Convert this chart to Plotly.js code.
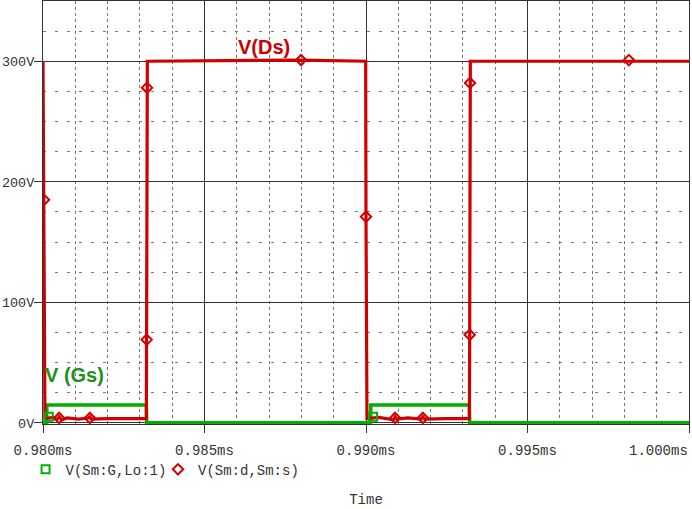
<!DOCTYPE html>
<html><head><meta charset="utf-8">
<script src="https://cdn.plot.ly/plotly-3.0.1.min.js"></script>
<style>html,body{margin:0;padding:0;background:#fff}#chart{width:692px;height:509px}</style>
</head><body><div id="chart"></div>
<script>
// V(Sm:d,Sm:s) drain-source voltage (time in ms, volts)
const dsTime = [0.98000, 0.98003, 0.98006, 0.98030, 0.98042, 0.98050, 0.98058, 0.98075, 0.98110, 0.98140, 0.98145, 0.98150, 0.98200, 0.98320, 0.98321, 0.98322, 0.98323, 0.98800, 0.98999, 0.99000, 0.99003, 0.99040, 0.99085, 0.99090, 0.99095, 0.99130, 0.99170, 0.99176, 0.99182, 0.99250, 0.99320, 0.99321, 0.99322, 0.99323, 1.00000];
const dsVolt = [300, 185, 3.5, 4.5, 2.5, 5, 2.5, 4, 3, 4, 5, 3, 3.5, 3.5, 69, 278, 300, 301, 300, 171, 3.5, 4.5, 2.5, 5, 3, 4, 3, 5, 3, 3.5, 3.5, 73, 282, 300, 300];
const dsMarkTime = [0.98003, 0.98050, 0.98145, 0.98321, 0.98322, 0.98799, 0.99000, 0.99090, 0.99176, 0.99321, 0.99322, 0.99814];
const dsMarkVolt = [185, 4, 4, 69, 278, 301, 171, 4, 4, 73, 282, 301];

// V(Sm:G,Lo:1) gate voltage
const gsTime = [0.98000, 0.98011, 0.98012, 0.98320, 0.98321, 0.99014, 0.99015, 0.99320, 0.99321, 1.00000];
const gsVolt = [0, 0, 14.8, 14.8, 0, 0, 14.8, 14.8, 0, 0];
const gsMarkTime = [0.98018, 0.99022];
const gsMarkVolt = [5, 5];

const xTickVals = [0.980, 0.985, 0.990, 0.995, 1.000];
const xTickLabels = ['0.980ms', '0.985ms', '0.990ms', '0.995ms', ''];
const lastTickLabel = '1.000ms';

const RED = '#d00000', GREEN = '#00b000';
const mono = {family: 'Liberation Mono, Courier New, monospace', size: 14, color: '#333'};

const traces = [
  {x: gsTime, y: gsVolt, mode: 'lines', line: {color: GREEN, width: 3.5}, showlegend: false},
  {x: dsTime, y: dsVolt, mode: 'lines', line: {color: RED, width: 3.2}, showlegend: false},
  {x: gsMarkTime, y: gsMarkVolt, mode: 'markers', name: 'V(Sm:G,Lo:1)', legend: 'legend',
   marker: {symbol: 'square-open', size: 8, color: GREEN, line: {width: 2, color: GREEN}}},
  {x: dsMarkTime, y: dsMarkVolt, mode: 'markers', name: 'V(Sm:d,Sm:s)', legend: 'legend2',
   marker: {symbol: 'diamond-open', size: 8, color: RED, line: {width: 2, color: RED}}}
];

const legendBase = {orientation: 'h', xanchor: 'left', y: -0.108, yanchor: 'middle',
                    font: mono, itemwidth: 30, bgcolor: 'rgba(0,0,0,0)'};

const layout = {
  width: 692, height: 509,
  margin: {l: 43, r: 3, t: 1, b: 85},
  paper_bgcolor: '#fff', plot_bgcolor: '#fff',
  font: mono,
  hovermode: false,
  xaxis: {
    range: [0.980, 1.000], tickmode: 'array', tickvals: xTickVals, ticktext: xTickLabels,
    ticks: 'outside', ticklen: 8, tickcolor: '#333', tickfont: mono, ticklabelstandoff: 5,
    showgrid: true, gridcolor: '#333', gridwidth: 1, zeroline: false,
    showline: true, linecolor: '#333', linewidth: 1, mirror: true,
    minor: {tick0: 0.980, dtick: 0.001, showgrid: true, gridcolor: '#777', griddash: 'dot', ticks: ''},
    title: {text: 'Time', font: mono, standoff: 36}, automargin: false
  },
  yaxis: {
    range: [-1, 350], tick0: 0, dtick: 100, ticksuffix: 'V',
    ticks: 'outside', ticklen: 8, tickcolor: '#333', tickfont: {family: mono.family, size: 13.5, color: '#333'},
    ticklabelstandoff: -3,
    showgrid: true, gridcolor: '#333', gridwidth: 1, zeroline: false,
    showline: true, linecolor: '#333', linewidth: 1, mirror: true,
    minor: {tick0: 0, dtick: 25, showgrid: true, gridcolor: '#777', griddash: '3px,9px', ticks: ''},
    automargin: false
  },
  yaxis2: {
    overlaying: 'y', range: [-1, 350], tick0: 75, dtick: 75, showticklabels: false, ticks: '',
    showgrid: true, gridcolor: '#777', griddash: '5px,1px', zeroline: false, showline: false
  },
  legend: Object.assign({}, legendBase, {x: -0.027}),
  legend2: Object.assign({}, legendBase, {x: 0.178}),
  annotations: [
    {x: 0.98684, y: 312, xref: 'x', yref: 'y', text: 'V(Ds)', showarrow: false,
     font: {family: 'Liberation Sans, Arial, sans-serif', size: 20, color: '#cc0000', weight: 'bold'}},
    {x: 0.98096, y: 40, xref: 'x', yref: 'y', text: 'V (Gs)', showarrow: false,
     font: {family: 'Liberation Sans, Arial, sans-serif', size: 20, color: '#1e8f1e', weight: 'bold'}},
    {x: 1.000, y: 0, xref: 'x', yref: 'paper', yanchor: 'top', xanchor: 'right', yshift: -17, xshift: 1,
     text: lastTickLabel, showarrow: false, font: mono}
  ]
};

Plotly.newPlot('chart', traces, layout, {displayModeBar: false, staticPlot: true});
</script>
</body></html>
